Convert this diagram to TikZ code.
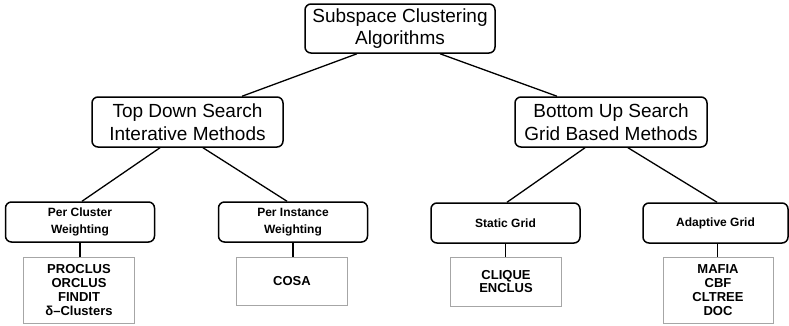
\documentclass[tikz,border=0pt]{standalone}
\usepackage{fontspec}
\setmainfont{Liberation Sans}

\begin{document}
\begin{tikzpicture}[x=1pt,y=-1pt,
  topbox/.style={draw,line width=1.5pt,rounded corners=6pt,align=center,inner sep=0pt,
    font=\fontsize{19}{22.5}\selectfont},
  subbox/.style={draw,line width=1.5pt,rounded corners=6pt,align=center,inner sep=0pt,
    minimum width=149pt,minimum height=40pt,font=\bfseries\fontsize{12}{16.5}\selectfont},
  algbox/.style={draw=gray!70,line width=0.8pt,align=center,inner sep=0pt,minimum width=111pt,
    font=\bfseries\fontsize{13}{13.8}\selectfont},
  link/.style={line width=1.3pt}]
\useasboundingbox (0,0) rectangle (789,325);
\node[topbox,minimum width=190pt,minimum height=49pt] (root) at (400,28.5) {Subspace Clustering\\Algorithms};
\node[topbox,minimum width=191pt,minimum height=50pt] (topdown) at (187.5,122) {Top Down Search\\Interative Methods};
\node[topbox,minimum width=192pt,minimum height=50pt] (bottomup) at (611,122) {Bottom Up Search\\Grid Based Methods};
\node[subbox] (percluster) at (80,222) {Per Cluster\\Weighting};
\node[subbox] (perinstance) at (293,222) {Per Instance\\Weighting};
\node[subbox] (staticgrid) at (505.5,223) {Static Grid};
\node[subbox,minimum width=145pt] (adaptivegrid) at (715.5,223) {Adaptive Grid};
\node[algbox,minimum height=66pt] (algcluster) at (79,290) {PROCLUS\\ORCLUS\\FINDIT\\δ--Clusters};
\node[algbox,minimum height=48pt] (alginstance) at (292,281) {COSA};
\node[algbox,minimum height=49pt] (algstatic) at (506,281.5) {CLIQUE\\ENCLUS};
\node[algbox,minimum height=66pt,minimum width=110pt] (algadaptive) at (718,290) {MAFIA\\CBF\\CLTREE\\DOC};
\draw[link] ([xshift=-43pt]root.south) -- ([xshift=54.5pt]topdown.north);
\draw[link] ([xshift=40pt]root.south) -- ([xshift=-54pt]bottomup.north);
\draw[link] ([xshift=-27.5pt]topdown.south) -- ([xshift=2pt]percluster.north);
\draw[link] ([xshift=15.5pt]topdown.south) -- ([xshift=-6pt]perinstance.north);
\draw[link] ([xshift=-26pt]bottomup.south) -- ([xshift=1.5pt]staticgrid.north);
\draw[link] ([xshift=17pt]bottomup.south) -- ([xshift=1.5pt]adaptivegrid.north);
\draw[link] (percluster.south) -- (percluster.south |- algcluster.north);
\draw[link] (perinstance.south) -- (perinstance.south |- alginstance.north);
\draw[link] (staticgrid.south) -- (staticgrid.south |- algstatic.north);
\draw[link] ([xshift=2pt]adaptivegrid.south) -- ([xshift=2pt]adaptivegrid.south |- algadaptive.north);
\end{tikzpicture}
\end{document}
